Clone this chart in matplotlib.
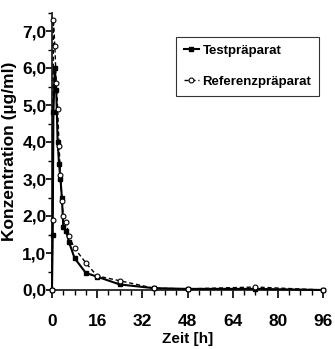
import matplotlib
matplotlib.use("Agg")
import matplotlib.pyplot as plt
from matplotlib.ticker import MultipleLocator, FuncFormatter

time_h = [0, 0.25, 0.5, 1, 1.5, 2, 2.5, 3, 3.5, 4, 5, 6, 8, 12, 16, 24, 36, 48, 72, 96]
test_conc = [0, 1.5, 4.8, 6.0, 5.4, 4.0, 3.4, 3.0, 2.5, 1.7, 1.6, 1.3, 0.86, 0.46, 0.36, 0.15, 0.05, 0.03, 0.03, 0.0]
ref_conc = [0, 1.9, 7.3, 6.6, 5.6, 4.9, 3.9, 3.1, 2.4, 2.0, 1.85, 1.45, 1.13, 0.73, 0.38, 0.25, 0.05, 0.03, 0.08, 0.0]
series_labels = ["Testpräparat", "Referenzpräparat"]
x_label = "Zeit [h]"
y_label = "Konzentration (µg/ml)"

fam = ['Liberation Sans', 'DejaVu Sans']

fig = plt.figure(figsize=(3.35, 3.49), dpi=100)
ax = fig.add_axes([52/335, 1 - 290/349, 271/335, 277.5/349])

ax.plot(time_h, test_conc, '-', color='black', lw=1.5, marker='s', ms=2.5,
        mfc='black', mec='black', clip_on=False, label=series_labels[0], zorder=3)
ax.plot(time_h, ref_conc, '--', color='black', lw=1.0, dashes=(3, 2), marker='o', ms=3.5,
        mfc='white', mec='black', mew=0.8, clip_on=False, label=series_labels[1], zorder=4)

ax.set_xlim(0, 96)
ax.set_ylim(0, 7.5)
ax.xaxis.set_major_locator(MultipleLocator(16))
ax.xaxis.set_minor_locator(MultipleLocator(4))
ax.yaxis.set_major_locator(MultipleLocator(1))
ax.yaxis.set_minor_locator(MultipleLocator(0.5))
ax.yaxis.set_major_formatter(FuncFormatter(lambda v, p: f"{v:.1f}".replace('.', ',')))
ax.xaxis.set_major_formatter(FuncFormatter(lambda v, p: f"{int(v)}"))

for s in ['top', 'right']:
    ax.spines[s].set_visible(False)
for s in ['left', 'bottom']:
    ax.spines[s].set_linewidth(1.3)
    ax.spines[s].set_color('#222222')

ax.tick_params(axis='x', which='major', direction='out', length=5.5, width=1.2, pad=12)
ax.tick_params(axis='x', which='minor', direction='out', length=3.5, width=1.0)
ax.tick_params(axis='y', which='major', direction='out', length=4, width=1.2, pad=0)
ax.tick_params(axis='y', which='minor', direction='out', length=3, width=1.0)

for lab in ax.get_xticklabels() + ax.get_yticklabels():
    lab.set_fontfamily(fam)
    lab.set_fontweight('bold')
    lab.set_fontsize(12.5)

ax.set_ylabel(y_label, fontfamily=fam, fontweight='bold', fontsize=12.5)
ax.yaxis.set_label_coords(-0.13, 0.5)
ax.set_xlabel(x_label, fontfamily=fam, fontweight='bold', fontsize=11)
ax.xaxis.set_label_coords(0.502, -0.152)

leg = ax.legend(loc='upper left', bbox_to_anchor=(0.458, 0.912), borderaxespad=0,
                frameon=True, fancybox=False, handlelength=1.1, handletextpad=0.3,
                borderpad=0.6, labelspacing=1.4, numpoints=1,
                prop={'family': fam, 'weight': 'bold', 'size': 9.5})
leg.get_frame().set_edgecolor('black')
leg.get_frame().set_linewidth(0.8)

fig.savefig("out.png", dpi=100)
